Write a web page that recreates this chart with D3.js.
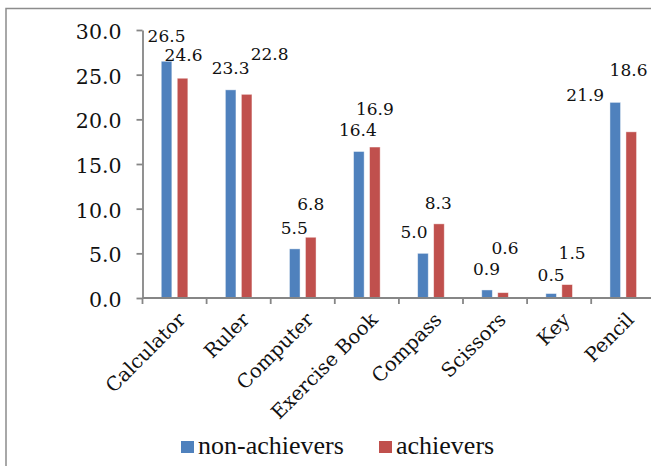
<!DOCTYPE html>
<html>
<head>
<meta charset="utf-8">
<script src="https://cdn.jsdelivr.net/npm/d3@7"></script>
<style>
  html, body { margin: 0; padding: 0; background: #fff; }
  svg { display: block; }
</style>
</head>
<body>
<svg id="chart" width="651" height="466"></svg>
<script>
// Share of students using each instrument (%)
const categories = ["Calculator", "Ruler", "Computer", "Exercise Book", "Compass", "Scissors", "Key", "Pencil"];
const seriesNames = ["non-achievers", "achievers"];
const nonAchievers = [26.5, 23.3, 5.5, 16.4, 5.0, 0.9, 0.5, 21.9];
const achievers = [24.6, 22.8, 6.8, 16.9, 8.3, 0.6, 1.5, 18.6];
const yTicks = [0, 5, 10, 15, 20, 25, 30];

// Nudges for value labels so neighbouring labels do not collide: [dx, dy] from bar top
const labelNudge = {
  "non-achievers": [[0, -25.5], [0, -22], [-0.5, -21], [-1, -21.5], [-9, -21], [-0.5, -21.5], [0, -19], [-30, -7]],
  "achievers": [[1, -23], [23, -40.6], [0, -33], [0, -38], [-0.7, -21], [2, -44.6], [5, -31.6], [-2.7, -62]]
};

const colors = { "non-achievers": "#4F81BD", "achievers": "#C0504D" };
const axisColor = "#868686";
const serif = "'DejaVu Serif', serif";

const svg = d3.select("#chart");

// Outer chart frame (continues past the right and bottom edges)
svg.append("rect")
  .attr("x", 6).attr("y", 8.5)
  .attr("width", 700).attr("height", 500)
  .attr("fill", "none")
  .attr("stroke", "#8c8c8c")
  .attr("stroke-width", 1.5);

const plot = { left: 142.5, right: 655.3, top: 30, bottom: 298 };

const x0 = d3.scaleBand()
  .domain(categories)
  .range([plot.left, plot.right])
  .padding(0);

const bw = x0.bandwidth();
const x1 = d3.scaleBand()
  .domain(seriesNames)
  .range([bw / 2 - 13.3, bw / 2 + 13.3])
  .paddingInner(0.3375)
  .paddingOuter(0);

const y = d3.scaleLinear().domain([0, 30]).range([plot.bottom, plot.top]);

const rows = categories.map((c, i) => ({
  category: c,
  values: [
    { series: "non-achievers", value: nonAchievers[i], idx: i },
    { series: "achievers", value: achievers[i], idx: i }
  ]
}));

// Bars
const groups = svg.append("g").selectAll("g")
  .data(rows)
  .join("g")
  .attr("transform", d => `translate(${x0(d.category)},0)`);

groups.selectAll("rect")
  .data(d => d.values)
  .join("rect")
  .attr("x", d => x1(d.series))
  .attr("y", d => y(d.value))
  .attr("width", x1.bandwidth())
  .attr("height", d => y(0) - y(d.value))
  .attr("fill", d => colors[d.series])
  .attr("stroke", "rgba(255,255,255,0.55)")
  .attr("stroke-width", 0.8);

// Value labels
const labelSize = 17;
groups.selectAll("text")
  .data(d => d.values)
  .join("text")
  .attr("x", d => x1(d.series) + x1.bandwidth() / 2 + labelNudge[d.series][d.idx][0])
  .attr("y", d => y(d.value) + labelNudge[d.series][d.idx][1] + 0.36 * labelSize)
  .attr("text-anchor", "middle")
  .attr("font-family", serif)
  .attr("font-size", labelSize)
  .attr("fill", "#111")
  .text(d => d.value.toFixed(1));

// Y axis
const yAxis = svg.append("g")
  .attr("transform", `translate(${plot.left},0)`)
  .call(d3.axisLeft(y).tickValues(yTicks).tickSize(6).tickSizeOuter(0).tickPadding(15)
    .tickFormat(d3.format(".1f")));
yAxis.select(".domain").attr("stroke", axisColor).attr("stroke-width", 1.8);
yAxis.selectAll(".tick line").attr("stroke", axisColor).attr("stroke-width", 1.8);
yAxis.selectAll(".tick text")
  .attr("font-family", serif)
  .attr("font-size", 20.5)
  .attr("fill", "#111")
  .attr("dy", "0.42em");

// X axis: ticks sit on the category boundaries
const xAxisG = svg.append("g").attr("transform", `translate(0,${plot.bottom})`);
xAxisG.append("line")
  .attr("x1", plot.left).attr("x2", plot.right)
  .attr("stroke", axisColor).attr("stroke-width", 1.8);
xAxisG.selectAll("line.tk")
  .data(categories)
  .join("line")
  .attr("class", "tk")
  .attr("x1", d => x0(d)).attr("x2", d => x0(d))
  .attr("y1", 0).attr("y2", 6)
  .attr("stroke", axisColor).attr("stroke-width", 1.8);

xAxisG.selectAll("text")
  .data(categories)
  .join("text")
  .attr("transform", d => `translate(${x0(d) + bw / 2 + 2},13) rotate(-45)`)
  .attr("text-anchor", "end")
  .attr("dy", "0.72em")
  .attr("font-family", serif)
  .attr("font-size", 19.5)
  .attr("fill", "#111")
  .text(d => d);

// Legend
const legend = svg.append("g").attr("transform", "translate(181,441)");
const legendItems = [
  { name: "non-achievers", x: 0 },
  { name: "achievers", x: 198 }
];
const li = legend.selectAll("g")
  .data(legendItems)
  .join("g")
  .attr("transform", d => `translate(${d.x},0)`);
li.append("rect")
  .attr("width", 13).attr("height", 12)
  .attr("fill", d => colors[d.name]);
li.append("text")
  .attr("x", 17).attr("y", 13)
  .attr("font-family", "'Liberation Serif', 'Times New Roman', serif")
  .attr("font-size", 26)
  .attr("fill", "#111")
  .text(d => d.name);
</script>
</body>
</html>
